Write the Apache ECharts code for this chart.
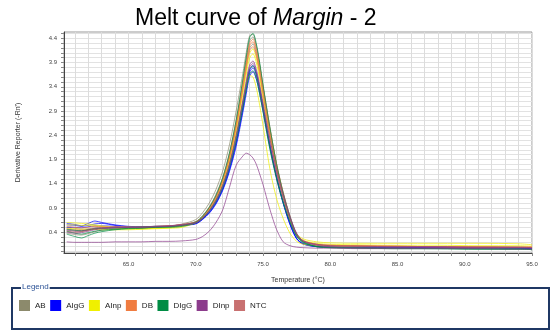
<!DOCTYPE html>
<html><head><meta charset="utf-8">
<script src="https://cdn.jsdelivr.net/npm/echarts@6/dist/echarts.min.js"></script>
<style>html,body{margin:0;padding:0;background:#fff}#c{width:551px;height:336px}</style>
</head><body><div id="c"></div>
<script>
// Temperatures (°C) at which the derivative curves are sampled
const temps = [60.4,61,61.5,62,62.5,63,64,65,66,67,68,69,
  70,70.5,71,71.5,72,72.5,73,73.5,
  73.75,74,74.25,74.5,74.75,75,
  75.5,76,76.5,77,77.5,78,
  79,80,82,85,88,91,94,95];

const samples = ['AB','AIgG','AInp','DB','DIgG','DInp','NTC'];
const sampleColors = ['#8c8a6c','#0000ff','#f0f000','#f07c40','#008c44','#8c3c8c','#c87070'];

// -Rn' values per replicate well
const AB1 = [0.38,0.35,0.34,0.37,0.41,0.44,0.47,0.48,0.49,0.50,0.52,0.57, 0.66,0.8,1.0,1.28,1.66,2.2,2.9,3.68, 4.1,4.45,4.48,4.24,3.84,3.38, 2.52,1.78,1.18,0.7,0.34,0.21, 0.14,0.12,0.11,0.1,0.1,0.09,0.08,0.07];
const AB2 = [0.45,0.43,0.42,0.44,0.46,0.47,0.48,0.49,0.5,0.5,0.52,0.55, 0.62,0.74,0.92,1.18,1.53,2.03,2.7,3.52, 3.96,4.34,4.43,4.24,3.86,3.42, 2.58,1.82,1.22,0.73,0.36,0.22, 0.15,0.13,0.12,0.11,0.1,0.1,0.09,0.08];
const AB3 = [0.5,0.48,0.46,0.47,0.49,0.5,0.5,0.49,0.5,0.51,0.52,0.55, 0.61,0.71,0.89,1.12,1.46,1.94,2.59,3.39, 3.82,4.19,4.28,4.08,3.71,3.28, 2.45,1.72,1.15,0.69,0.34,0.21, 0.14,0.12,0.11,0.1,0.09,0.09,0.08,0.07];
const AIgG1 = [0.58,0.56,0.53,0.58,0.63,0.6,0.55,0.52,0.51,0.52,0.53,0.55, 0.58,0.67,0.81,1.01,1.3,1.71,2.26,2.98, 3.38,3.74,3.84,3.69,3.38,3.0, 2.22,1.56,1.02,0.58,0.27,0.16, 0.11,0.1,0.09,0.09,0.08,0.08,0.07,0.06];
const AIgG2 = [0.55,0.54,0.52,0.54,0.57,0.58,0.54,0.51,0.5,0.51,0.52,0.54, 0.58,0.67,0.8,1.0,1.28,1.68,2.22,2.93, 3.33,3.69,3.79,3.64,3.33,2.96, 2.2,1.55,1.01,0.57,0.27,0.16, 0.1,0.09,0.09,0.08,0.08,0.08,0.07,0.06];
const AIgG3 = [0.5,0.5,0.49,0.51,0.53,0.53,0.52,0.5,0.5,0.51,0.52,0.54, 0.57,0.66,0.79,0.98,1.26,1.65,2.17,2.87, 3.25,3.61,3.71,3.56,3.26,2.9, 2.16,1.52,0.99,0.56,0.26,0.15, 0.1,0.09,0.08,0.08,0.08,0.07,0.07,0.06];
const AInp1 = [0.6,0.59,0.58,0.57,0.55,0.53,0.5,0.48,0.47,0.48,0.5,0.53, 0.6,0.71,0.87,1.1,1.44,1.9,2.53,3.31, 3.73,4.09,4.18,3.99,3.63,3.21, 2.4,1.69,1.13,0.68,0.37,0.26, 0.2,0.18,0.17,0.17,0.17,0.17,0.16,0.14];
const AInp2 = [0.55,0.55,0.54,0.54,0.53,0.52,0.49,0.47,0.47,0.48,0.49,0.52, 0.6,0.7,0.86,1.09,1.41,1.87,2.48,3.24, 3.64,3.99,4.08,3.9,3.54,3.14, 2.36,1.66,1.11,0.66,0.34,0.23, 0.17,0.15,0.14,0.13,0.13,0.12,0.12,0.11];
const AInp3 = [0.48,0.47,0.46,0.46,0.46,0.45,0.45,0.45,0.46,0.47,0.48,0.5, 0.6,0.7,0.86,1.08,1.4,1.84,2.42,3.1, 3.42,3.63,3.6,3.38,3.02,2.6, 1.72,1.1,0.68,0.38,0.21,0.15, 0.12,0.11,0.1,0.1,0.1,0.09,0.09,0.08];
const DB1 = [0.42,0.4,0.41,0.44,0.47,0.48,0.5,0.51,0.5,0.52,0.53,0.56, 0.61,0.72,0.9,1.14,1.49,1.98,2.64,3.47, 3.91,4.29,4.38,4.18,3.82,3.4, 2.56,1.82,1.22,0.73,0.36,0.22, 0.15,0.13,0.12,0.11,0.1,0.09,0.08,0.08];
const DB2 = [0.47,0.45,0.44,0.45,0.47,0.49,0.51,0.5,0.49,0.51,0.53,0.55, 0.61,0.72,0.89,1.13,1.48,1.96,2.62,3.43, 3.86,4.24,4.33,4.13,3.76,3.32, 2.48,1.75,1.16,0.69,0.35,0.22, 0.15,0.13,0.12,0.11,0.1,0.1,0.09,0.09];
const DB3 = [0.52,0.5,0.49,0.5,0.52,0.51,0.5,0.5,0.51,0.52,0.53,0.55, 0.61,0.71,0.88,1.11,1.45,1.93,2.56,3.35, 3.77,4.14,4.23,4.04,3.67,3.25, 2.42,1.7,1.13,0.68,0.34,0.21, 0.14,0.12,0.11,0.1,0.1,0.09,0.09,0.1];
const DIgG1 = [0.36,0.31,0.28,0.33,0.38,0.41,0.45,0.47,0.48,0.5,0.51,0.54, 0.61,0.73,0.91,1.16,1.52,2.03,2.71,3.56, 4.01,4.41,4.5,4.29,3.9,3.44, 2.58,1.81,1.2,0.72,0.35,0.2, 0.1,0.08,0.07,0.06,0.06,0.05,0.05,0.04];
const DIgG2 = [0.42,0.38,0.36,0.39,0.42,0.44,0.46,0.48,0.49,0.5,0.5,0.52, 0.59,0.68,0.83,1.03,1.32,1.74,2.28,2.97, 3.34,3.66,3.73,3.57,3.25,2.88, 2.12,1.5,1.0,0.61,0.31,0.18, 0.1,0.08,0.07,0.06,0.06,0.05,0.05,0.04];
const DIgG3 = [0.46,0.44,0.43,0.45,0.47,0.48,0.49,0.5,0.51,0.52,0.52,0.54, 0.59,0.69,0.84,1.05,1.35,1.77,2.34,3.05, 3.43,3.76,3.83,3.66,3.33,2.95, 2.18,1.54,1.03,0.62,0.32,0.19, 0.11,0.09,0.08,0.07,0.06,0.06,0.05,0.05];
const DInp1 = [0.44,0.42,0.42,0.45,0.48,0.49,0.5,0.5,0.51,0.52,0.53,0.56, 0.6,0.69,0.85,1.06,1.37,1.81,2.4,3.12, 3.51,3.85,3.93,3.76,3.44,3.07, 2.34,1.7,1.18,0.73,0.38,0.22, 0.15,0.12,0.11,0.1,0.1,0.09,0.09,0.08];
const DInp2 = [0.4,0.38,0.39,0.42,0.45,0.47,0.49,0.5,0.5,0.51,0.52,0.54, 0.59,0.69,0.84,1.06,1.36,1.79,2.37,3.09, 3.47,3.8,3.88,3.71,3.37,2.99, 2.26,1.62,1.1,0.67,0.35,0.21, 0.13,0.1,0.09,0.09,0.09,0.08,0.08,0.07];
const DInp3 = [0.2,0.19,0.19,0.19,0.19,0.19,0.2,0.2,0.2,0.21,0.21,0.22, 0.25,0.31,0.42,0.6,0.86,1.32,1.78,1.97, 2.03,2.0,1.93,1.8,1.6,1.38, 0.88,0.46,0.2,0.12,0.09,0.08, 0.07,0.07,0.06,0.06,0.06,0.06,0.05,0.05];
const NTC = [];

const wells = [
  ['AB',AB1],['AB',AB2],['AB',AB3],
  ['AIgG',AIgG1],['AIgG',AIgG2],['AIgG',AIgG3],
  ['AInp',AInp1],['AInp',AInp2],['AInp',AInp3],
  ['DB',DB1],['DB',DB2],['DB',DB3],
  ['DIgG',DIgG1],['DIgG',DIgG2],['DIgG',DIgG3],
  ['DInp',DInp1],['DInp',DInp2],['DInp',DInp3],
  ['NTC',NTC]
];

const xLabelValues = [65,70,75,80,85,90,95];
const yLabelValues = [0.4,0.9,1.4,1.9,2.4,2.9,3.4,3.9,4.4];
const xTickValues = []; for (let t = 61; t <= 95; t++) xTickValues.push(t);
const yTickValues = []; for (let i = 0; i <= 45; i++) yTickValues.push(+(i/10).toFixed(1));

const colorOf = n => sampleColors[samples.indexOf(n)];
const series = wells.map(([name, vals]) => ({
  name, type: 'line', smooth: 0.3, symbol: 'none', silent: true,
  data: vals.map((v, i) => [temps[i], v]),
  lineStyle: { width: 1, color: colorOf(name), opacity: 0.7 },
  itemStyle: { color: colorOf(name) }
}));

const chart = echarts.init(document.getElementById('c'), null, {renderer: 'canvas'});
const font = 'Liberation Sans, Arial, sans-serif';
chart.setOption({
  animation: false,
  title: {
    text: '{a|Melt curve of }{b|Margin}{a| - 2}',
    left: 130, top: 2,
    textStyle: { fontWeight: 'normal', rich: {
      a: { fontSize: 23, fontFamily: font, color: '#000', fontWeight: 'normal' },
      b: { fontSize: 23, fontFamily: font, color: '#000', fontStyle: 'italic', fontWeight: 'normal' }
    } }
  },
  grid: { left: 64, right: 19, top: 32, bottom: 83, show: true, borderColor: '#999', borderWidth: 1, containLabel: false },
  xAxis: {
    type: 'value', min: 60.2, max: 95,
    name: 'Temperature (°C)', nameLocation: 'middle', nameGap: 24,
    nameTextStyle: { fontSize: 7, fontFamily: font, color: '#333' },
    axisLine: { show: true, onZero: false, lineStyle: { color: '#444', width: 1 } },
    axisTick: { show: true, customValues: xTickValues, length: 3, lineStyle: { color: '#888' } },
    axisLabel: { customValues: xLabelValues, formatter: v => v.toFixed(1), fontSize: 6, fontFamily: font, color: '#444', margin: 8 },
    splitLine: { show: true, lineStyle: { color: '#dcdcdc', width: 1 } }
  },
  yAxis: {
    type: 'value', min: -0.03, max: 4.53,
    name: "Derivative Reporter (-Rn')", nameLocation: 'middle', nameGap: 42,
    nameTextStyle: { fontSize: 7, fontFamily: font, color: '#333' },
    axisLine: { show: true, onZero: false, lineStyle: { color: '#444', width: 1 } },
    axisTick: { show: true, customValues: yTickValues, length: 3, lineStyle: { color: '#888' } },
    axisLabel: { customValues: yLabelValues, formatter: v => v.toFixed(1), fontSize: 6, fontFamily: font, color: '#444', margin: 7 },
    splitLine: { show: true, lineStyle: { color: '#e2e2e2', width: 1 } }
  },
  legend: {
    data: samples, left: 14, top: 295, orient: 'horizontal',
    icon: 'rect', itemWidth: 11, itemHeight: 11, itemGap: 4.5,
    selectedMode: false,
    textStyle: { fontSize: 8, fontFamily: font, color: '#222' }
  },
  graphic: [
    { type: 'rect', shape: { x: 12, y: 288, width: 537, height: 41 }, style: { fill: 'none', stroke: '#1f3864', lineWidth: 2 }, silent: true },
    { type: 'text', x: 21, y: 283, style: { text: 'Legend', fontSize: 8, fontFamily: font, fill: '#2f5597', backgroundColor: '#fff', padding: [0,1] }, silent: true }
  ],
  series
});
</script></body></html>
